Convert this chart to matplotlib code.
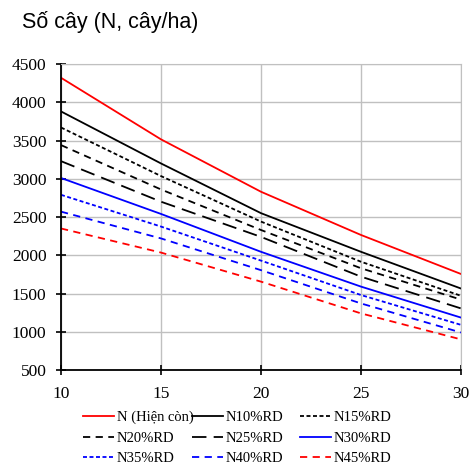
import matplotlib
matplotlib.use("Agg")
import matplotlib.pyplot as plt

# age (years)
tuoi = [10, 15, 20, 25, 30]

n_hien_con = [4320, 3515, 2830, 2265, 1755]
n10 = [3880, 3200, 2550, 2045, 1565]
n15 = [3670, 3035, 2440, 1915, 1470]
n20 = [3440, 2860, 2330, 1830, 1420]
n25 = [3230, 2700, 2240, 1720, 1305]
n30 = [3010, 2540, 2045, 1590, 1185]
n35 = [2790, 2375, 1930, 1480, 1090]
n40 = [2570, 2220, 1805, 1370, 990]
n45 = [2350, 2035, 1655, 1240, 900]

labels = ["N (Hiện còn)", "N10%RD", "N15%RD",
          "N20%RD", "N25%RD", "N30%RD",
          "N35%RD", "N40%RD", "N45%RD"]

series = [n_hien_con, n10, n15, n20, n25, n30, n35, n40, n45]
colors = ["#ff0000", "#000000", "#000000",
          "#000000", "#000000", "#0000ff",
          "#0000ff", "#0000ff", "#ff0000"]
styles = ["-", "-", (0, (2.2, 1.4)),
          (0, (4, 3)), (0, (8, 4)), "-",
          (0, (2.2, 1.4)), (0, (4, 3)), (0, (4, 3))]

fig = plt.figure(figsize=(4.71, 4.65), dpi=100)
ax = fig.add_axes([61 / 471, 1 - 370 / 465, 400 / 471, 306 / 465])

lines = []
for y, lab, c, ls in zip(series, labels, colors, styles):
    ln, = ax.plot(tuoi, y, color=c, linestyle=ls, linewidth=1.3, label=lab)
    lines.append(ln)

ax.set_xlim(10, 30)
ax.set_ylim(500, 4500)
ax.set_xticks([10, 15, 20, 25, 30])
ax.set_yticks(range(500, 4501, 500))
ax.grid(True, color="#c0c0c0", linewidth=1)
ax.set_axisbelow(True)
for s in ["top", "right"]:
    ax.spines[s].set_color("#c0c0c0")
for s in ["left", "bottom"]:
    ax.spines[s].set_color("black")
    ax.spines[s].set_linewidth(1.3)
ax.tick_params(direction="inout", length=7, width=1.2, labelsize=12.5)
ax.tick_params(axis="x", pad=8)
ax.tick_params(axis="y", pad=7)
for t in ax.get_xticklabels() + ax.get_yticklabels():
    t.set_fontfamily("Liberation Serif")

fig.text(22 / 471, 1 - 22 / 465, "Số cây (N, cây/ha)", fontsize=15.5,
         family="Liberation Sans", va="center", ha="left")

# legend laid out row by row, one legend per column
col_x = [83, 192, 300]
for i in range(3):
    hs = [lines[r * 3 + i] for r in range(3)]
    fig.legend(handles=hs, labels=[h.get_label() for h in hs],
               loc="upper left", bbox_to_anchor=(col_x[i] / 471, 1 - 411 / 465),
               borderaxespad=0, borderpad=0, frameon=False,
               handlelength=2.1, handletextpad=0.2, labelspacing=0.5,
               prop={"family": "Liberation Serif", "size": 10.5})

fig.savefig("out.png", dpi=100)
